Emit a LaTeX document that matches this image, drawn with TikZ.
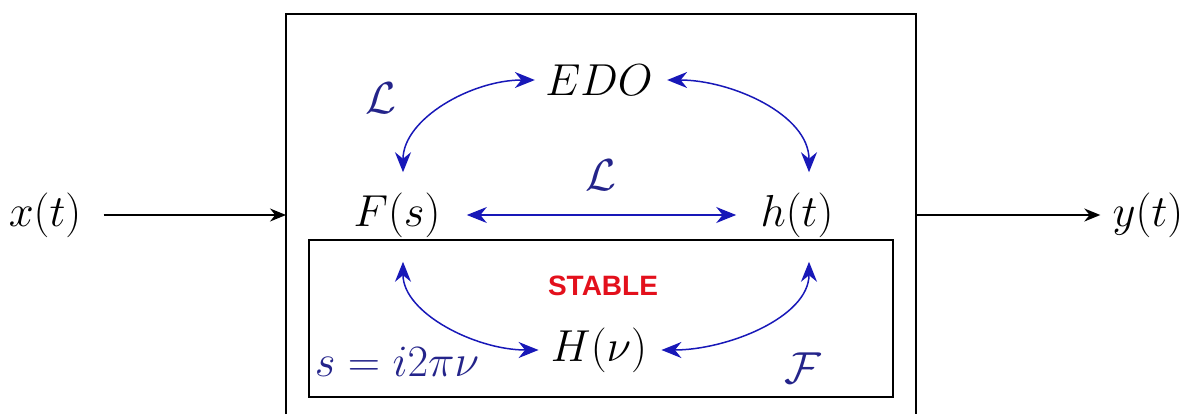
\documentclass[tikz,border=0pt]{standalone}
\usepackage{amsmath,amssymb}
\usepackage{graphicx}
\usepackage{fontspec}
\usepackage{tikz}
\usetikzlibrary{arrows.meta, positioning, calc}
\newfontfamily\stablefont{Liberation Sans}
\definecolor{lapblue}{HTML}{1818b8}
\definecolor{lblblue}{HTML}{24248a}
\definecolor{stabred}{HTML}{e3101c}
\newcommand{\sigtxt}[1]{\scalebox{1.08}{$#1$}}

\begin{document}
\begin{tikzpicture}[
    x=0.5pt, y=0.5pt,
    sig/.style={font=\huge, inner sep=3pt},
    lbl/.style={font=\huge, text=lblblue, inner sep=0pt},
    biarrow/.style={{Stealth[length=10pt,width=8pt]}-{Stealth[length=10pt,width=8pt]}, line width=0.75pt, lapblue},
    flow/.style={-{Stealth[length=8pt,width=6.5pt]}, line width=0.8pt, black},
    frame/.style={draw, line width=0.8pt}
]
    \useasboundingbox (0,0) rectangle (1185,414);

    \node[sig] (xin) at (45,199) {\sigtxt{x(t)}};
    \node[sig] (yout) at (1148,199) {\sigtxt{y(t)}};
    \node[sig] (fs) at (397,199) {\sigtxt{F(s)}};
    \node[sig] (ht) at (797,199) {\sigtxt{h(t)}};
    \node[sig] (edo) at (599,334) {\sigtxt{EDO}};
    \node[sig] (hnu) at (599,64) {\sigtxt{H(\nu)}};
    \node[font=\stablefont\bfseries\fontsize{14}{16}\selectfont, text=stabred] (stab) at (603,128) {STABLE};

    \coordinate (sysin) at (286,199);
    \coordinate (sysout) at (916,199);
    \draw[frame] (286,0) |- (916,400) -- (916,0);
    \draw[frame] (309,17) rectangle (893,174);

    \draw[flow, shorten <=8pt] (xin) -- (sysin);
    \draw[flow, shorten >=3pt] (sysout) -- (yout);

    \draw[biarrow, shorten <=7pt, shorten >=2pt] ([xshift=3]fs.north) to[out=90,in=180] (edo.west);
    \draw[biarrow, shorten <=4pt, shorten >=7pt] (edo.east) to[out=0,in=90] ([xshift=6]ht.north);
    \draw[biarrow, shorten <=10pt, shorten >=9pt] (fs.east) -- node[lbl, above=12pt]{\sigtxt{\mathcal{L}}} (ht.west);
    \draw[biarrow, shorten <=9pt, shorten >=3pt] ([xshift=3]fs.south) to[out=-90,in=180] (hnu.west);
    \draw[biarrow, shorten <=4pt, shorten >=9pt] (hnu.east) to[out=0,in=-90] ([xshift=6]ht.south);

    \node[lbl] (lapA) at (381,316) {\sigtxt{\mathcal{L}}};
    \node[lbl] (four) at (803,46) {\sigtxt{\mathcal{F}}};
    \node[lbl] (subst) at (397,52) {\sigtxt{s=i2\pi\nu}};
\end{tikzpicture}
\end{document}
